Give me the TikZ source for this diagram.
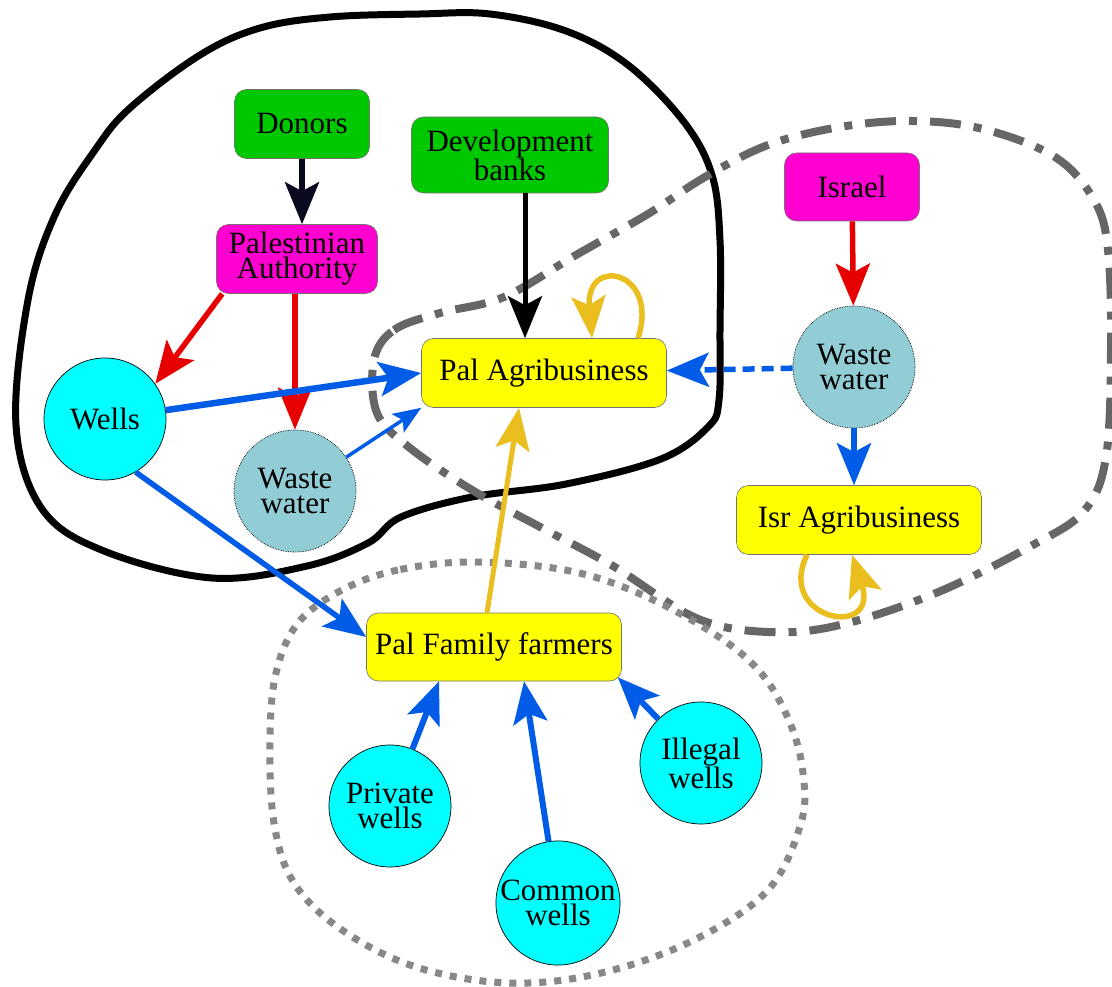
\documentclass[tikz,border=0pt]{standalone}
\usepackage{fontspec}
\setmainfont{Liberation Serif}
\usetikzlibrary{arrows.meta,backgrounds}

\definecolor{agrigreen}{RGB}{0,200,0}
\definecolor{actormag}{RGB}{255,0,208}
\definecolor{agriyellow}{RGB}{255,255,0}
\definecolor{wellcyan}{RGB}{0,255,255}
\definecolor{wastecol}{RGB}{146,205,214}
\definecolor{flowblue}{RGB}{0,92,230}
\definecolor{flowred}{RGB}{230,0,0}
\definecolor{flowgold}{RGB}{235,190,32}
\definecolor{arrownavy}{RGB}{10,10,30}
\definecolor{regiongray}{RGB}{102,102,102}
\definecolor{dotgray}{RGB}{136,136,136}

\begin{document}
\begin{tikzpicture}[x=1pt,y=-1pt,
		font=\fontsize{31}{25}\selectfont,
		actor/.style={rectangle, rounded corners=12pt, draw=black!55, line width=0.6pt, align=center, inner sep=0pt},
		well/.style={circle, draw=black, line width=0.7pt, fill=wellcyan, align=center, inner sep=0pt, minimum size=122pt},
		waste/.style={well, fill=wastecol, densely dotted},
		flow/.style={line width=5.5pt, -{Stealth[length=42pt,width=34pt,inset=9pt]}},
		thinflow/.style={line width=3.5pt, -{Stealth[length=28pt,width=22pt,inset=6pt]}}]
		\useasboundingbox (0,0) rectangle (1112,987);

		% actors and water sources
		\node[actor, fill=agrigreen, minimum width=135pt, minimum height=69pt] (donors) at (302,124) {Donors};
		\node[actor, fill=agrigreen, minimum width=197pt, minimum height=76pt] (devbanks) at (510,155) {Development\\banks};
		\node[actor, fill=actormag, minimum width=161pt, minimum height=69pt] (pa) at (297,259) {Palestinian\\Authority};
		\node[actor, fill=actormag, minimum width=135pt, minimum height=68pt] (israel) at (852,187) {Israel};
		\node[actor, fill=agriyellow, minimum width=245pt, minimum height=69pt] (palagri) at (544,373) {Pal Agribusiness};
		\node[actor, fill=agriyellow, minimum width=245pt, minimum height=69pt] (isragri) at (859,520) {Isr Agribusiness};
		\node[actor, fill=agriyellow, minimum width=255pt, minimum height=68pt] (pff) at (494,647) {Pal Family farmers};
		\node[well] (wells) at (105,419) {Wells};
		\node[waste] (wastel) at (295,491) {Waste\\water};
		\node[waste] (waster) at (854,367) {Waste\\water};
		\node[well] (private) at (390,806) {Private\\wells};
		\node[well] (common) at (558,903) {Common\\wells};
		\node[well] (illegal) at (701,763) {Illegal\\wells};

		% regions
		\begin{scope}[on background layer]
			\draw[line width=7pt] plot[smooth cycle, tension=0.6] coordinates {(16,425) (28,300) (55,215) (95,150) (130,108) (200,55) (260,28) (330,17) (420,14) (490,14) (566,31) (628,65) (684,122) (712,175) (720,240) (720,330) (719,400) (708,427) (661,459) (566,484) (472,497) (401,517) (368,543) (307,566) (212,578) (104,551) (42,509)};
			\draw[regiongray, line width=8pt, dash pattern=on 31pt off 13pt on 8pt off 13pt] plot[smooth cycle, tension=0.6] coordinates {(374,360) (394,330) (440,313) (504,297) (576,255) (648,214) (705,177) (768,145) (840,127) (912,121) (983,129) (1055,157) (1094,200) (1108,250) (1111,350) (1106,457) (1084,511) (1031,546) (936,593) (840,625) (768,632) (696,618) (613,566) (542,528) (472,490) (410,448) (377,413)};
			\draw[dotgray, line width=7pt, dash pattern=on 7pt off 8pt] plot[smooth cycle, tension=0.6] coordinates {(472,562) (398,570) (342,590) (298,623) (276,673) (270,740) (274,823) (294,883) (342,930) (416,967) (509,983) (601,973) (694,940) (768,890) (801,823) (803,773) (790,723) (761,673) (713,633) (638,593) (565,570)};
		\end{scope}

		% flows
		\draw[flow, arrownavy] (donors.south) -- (donors.south |- pa.north);
		\draw[flow, black, line width=5pt] ([xshift=15pt]devbanks.south) -- ([xshift=15pt]devbanks.south |- palagri.north);
		\draw[flow, flowred] ([xshift=6pt]pa.south west) -- (wells.35);
		\draw[flow, flowred] (pa.south -| wastel.north) -- (wastel.north);
		\draw[flow, flowblue, line width=6.5pt] (wells) -- (palagri.west);
		\draw[thinflow, flowblue] (wastel) -- (palagri.south west);
		\draw[flow, flowblue] (wells.-60) -- ([yshift=10pt]pff.west);
		\draw[flow, flowgold, line width=5pt] ([xshift=-7pt]pff.north) -- ([xshift=-25pt]palagri.south);
		\draw[flow, flowgold] ([xshift=94pt]palagri.north) .. controls (660,270) and (585,255) .. ([xshift=48pt]palagri.north);
		\draw[flow, flowred] (israel) -- (waster);
		\draw[flow, flowblue, dash pattern=on 12pt off 7pt] (waster) -- (palagri);
		\draw[flow, flowblue] (waster.south) -- (waster.south |- isragri.north);
		\draw[flow, flowgold] ([xshift=-52pt]isragri.south) .. controls (775,620) and (880,640) .. ([xshift=-7pt]isragri.south);
		\draw[flow, flowblue, line width=6pt] (private) -- ([xshift=-55pt]pff.south);
		\draw[flow, flowblue, line width=6pt] (common) -- ([xshift=30pt]pff.south);
		\draw[flow, flowblue, line width=6pt] (illegal) -- ([xshift=-4pt,yshift=4pt]pff.south east);
	\end{tikzpicture}
\end{document}
